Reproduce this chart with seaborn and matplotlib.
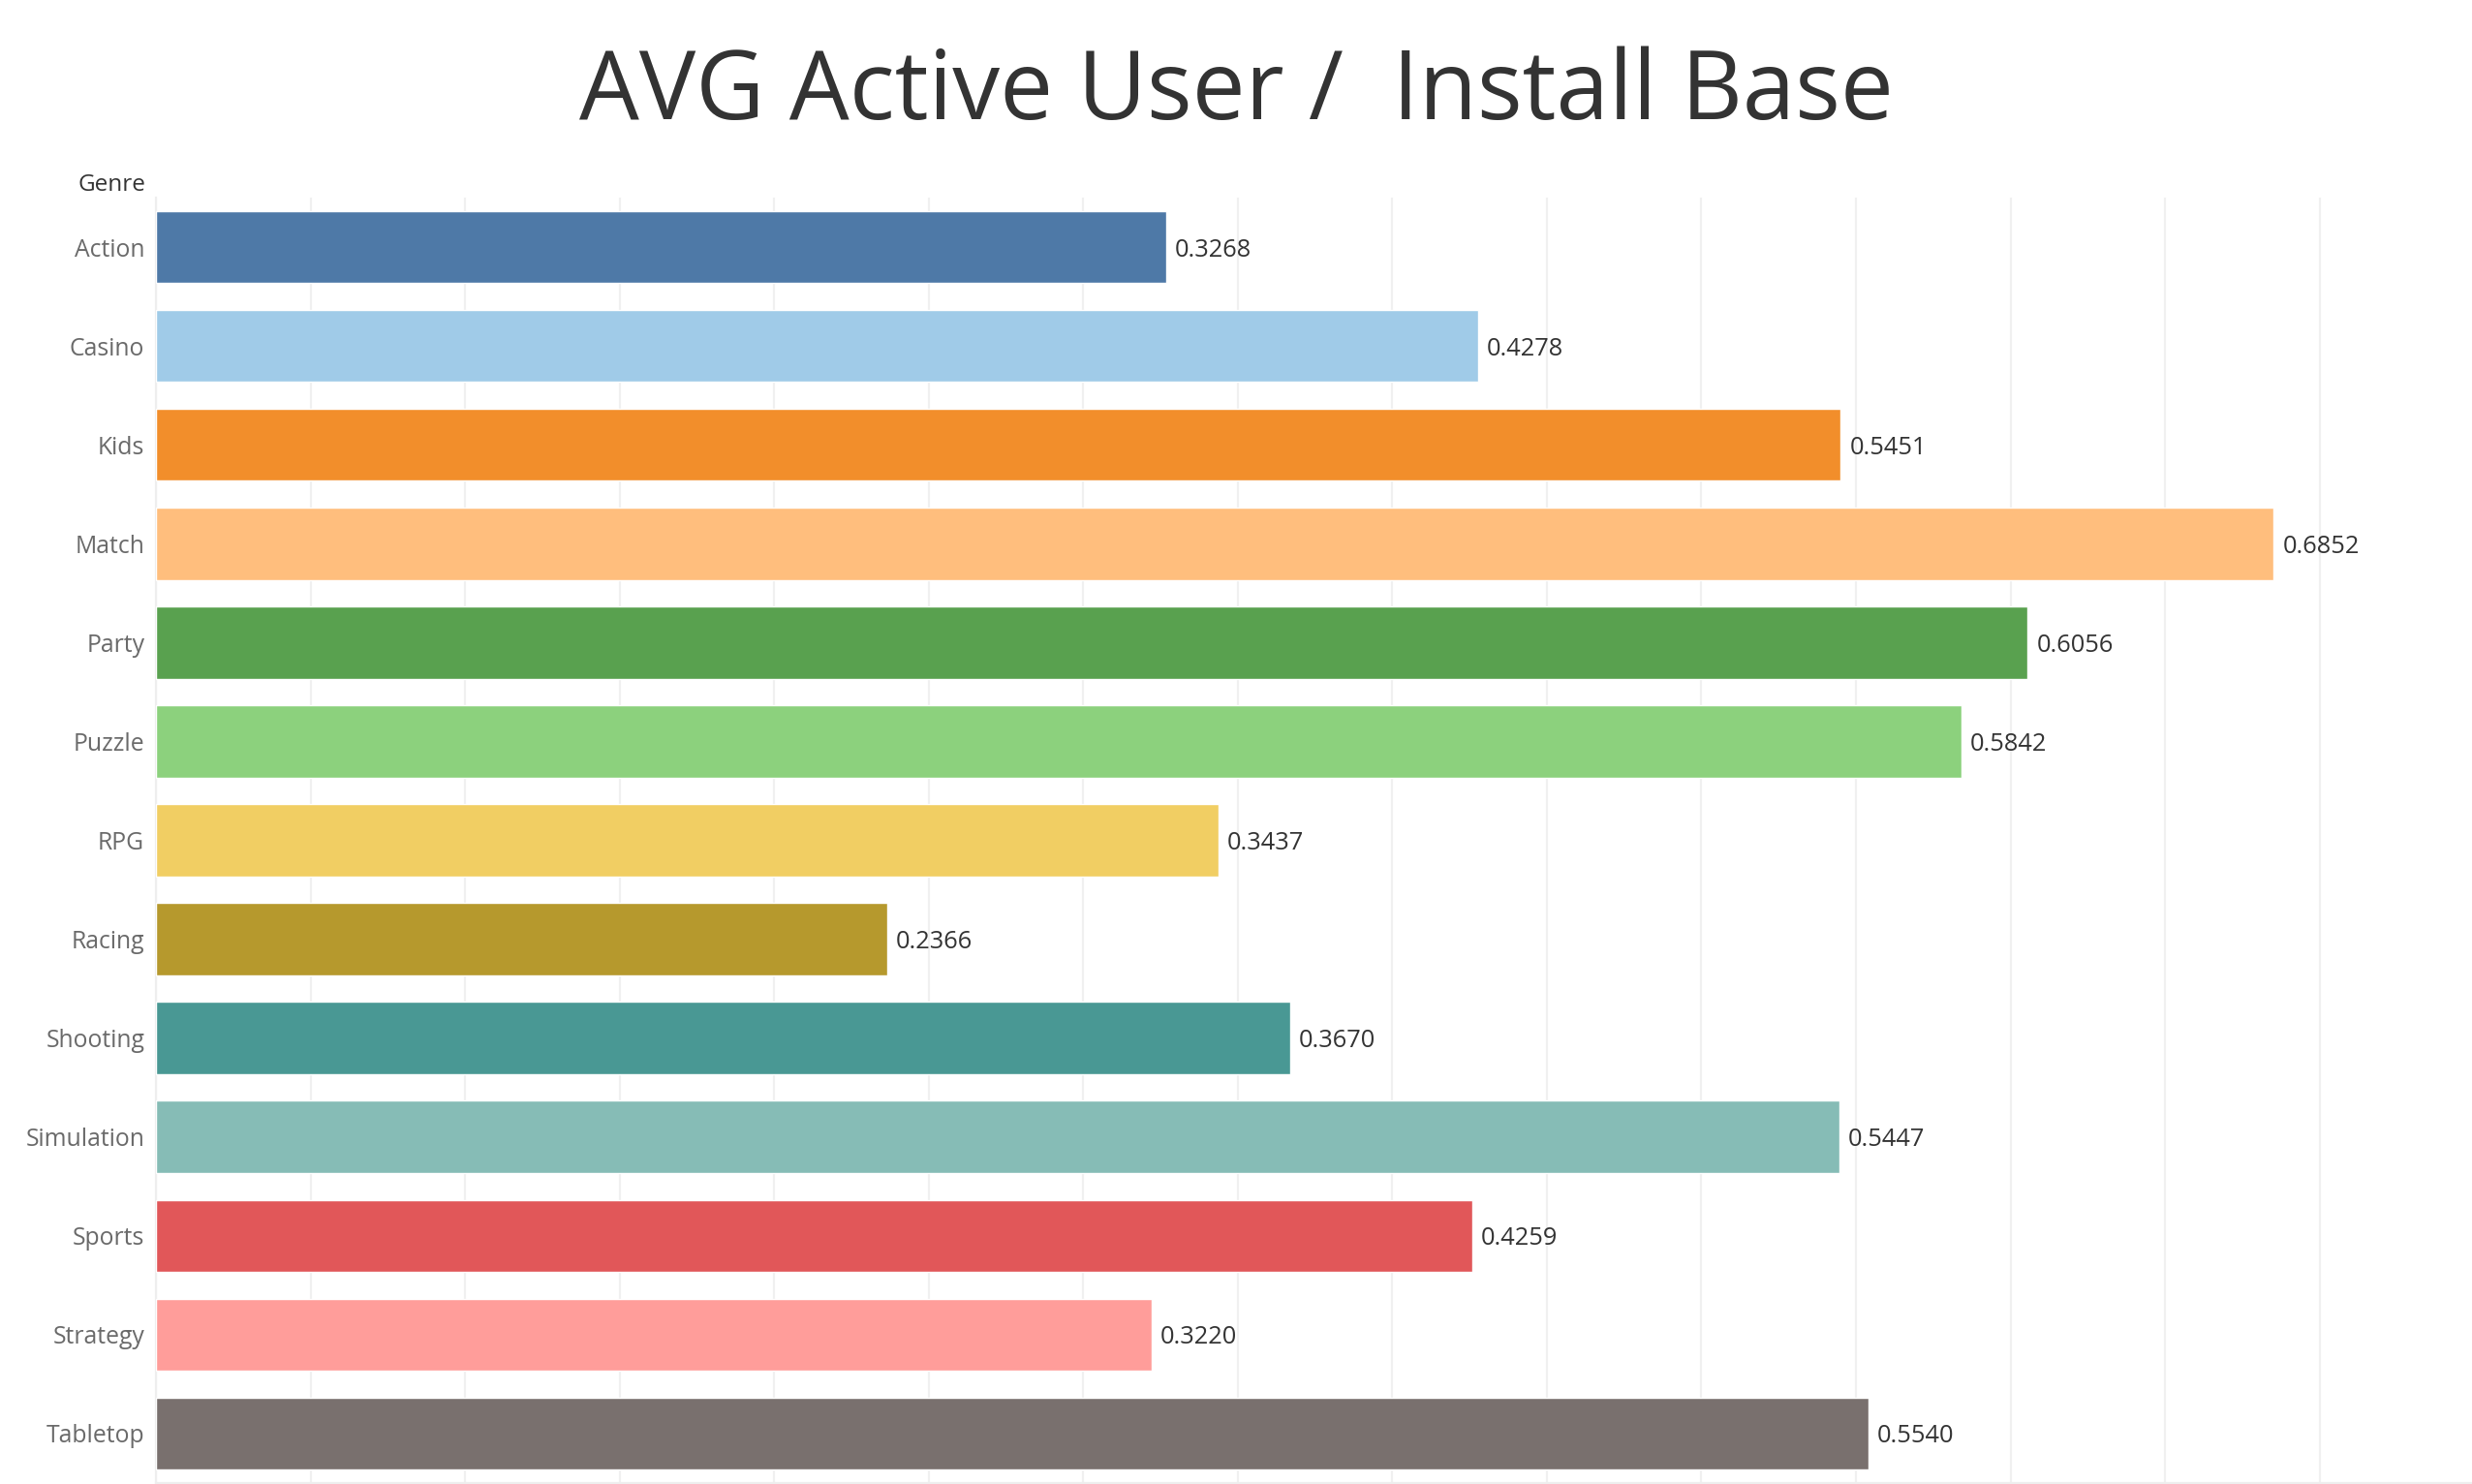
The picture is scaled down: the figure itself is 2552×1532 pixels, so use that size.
import matplotlib
matplotlib.use("Agg")
import matplotlib.pyplot as plt
import seaborn as sns
import numpy as np
import pandas as pd

genres = ["Action", "Casino", "Kids", "Match", "Party", "Puzzle", "RPG",
          "Racing", "Shooting", "Simulation", "Sports", "Strategy", "Tabletop"]
values = [0.3268, 0.4278, 0.5451, 0.6852, 0.6056, 0.5842, 0.3437,
          0.2366, 0.3670, 0.5447, 0.4259, 0.3220, 0.5540]
colors = ["#4E79A7", "#A0CBE8", "#F28E2B", "#FFBE7D", "#59A14F", "#8CD17D",
          "#F1CE63", "#B6992D", "#499894", "#86BCB6", "#E15759", "#FF9D9A",
          "#79706E"]
title = "AVG Active User /  Install Base"

sns.set_theme(style="white")
plt.rcParams['font.family'] = ['Open Sans', 'DejaVu Sans']

df = pd.DataFrame({"Genre": genres, "Value": values})

W, H = 2552, 1532
fig = plt.figure(figsize=(W / 100, H / 100), dpi=100)
ax = fig.add_axes([161 / W, 1 / H, (W - 161) / W, (1531 - 204) / H])

sns.barplot(data=df, y="Genre", x="Value", hue="Genre", order=genres,
            hue_order=genres, palette=dict(zip(genres, colors)),
            legend=False, width=0.73, saturation=1, ax=ax, zorder=3)

ax.set_xlim(0, (W - 161) / 3191)
ax.set_ylim(len(genres) - 0.5, -0.5)
ax.set_xticks(np.arange(0, 0.75, 0.05))
ax.set_xticklabels([])
ax.tick_params(axis="x", length=0)
ax.tick_params(axis="y", length=0, pad=8.5, labelsize=17.8, labelcolor="#6a6a6a")
for lbl in ax.get_yticklabels():
    lbl.set_verticalalignment("center_baseline")
ax.grid(axis="x", color="#f0f0f0", linewidth=1.6, zorder=0)
ax.grid(axis="y", visible=False)
ax.set_axisbelow(True)
for s in ["top", "right"]:
    ax.spines[s].set_visible(False)
for s in ["left", "bottom"]:
    ax.spines[s].set_color("#eeeeee")
    ax.spines[s].set_linewidth(1.6)
ax.set_xlabel("")
ax.set_ylabel("")

for i, v in enumerate(values):
    ax.annotate(f"{v:.4f}", xy=(v, i), xytext=(6.5, 0), textcoords="offset points",
                ha="left", va="center_baseline", fontsize=18.3, color="#333333")

fig.text(150 / W, 1 - 188 / H, "Genre", ha="right", va="center_baseline",
         fontsize=17.5, color="#333333", fontweight="medium")
fig.text(0.5, 1 - 97 / H, title, ha="center", va="center",
         fontsize=70.5, color="#333333")

fig.savefig("out.png", dpi=100)
